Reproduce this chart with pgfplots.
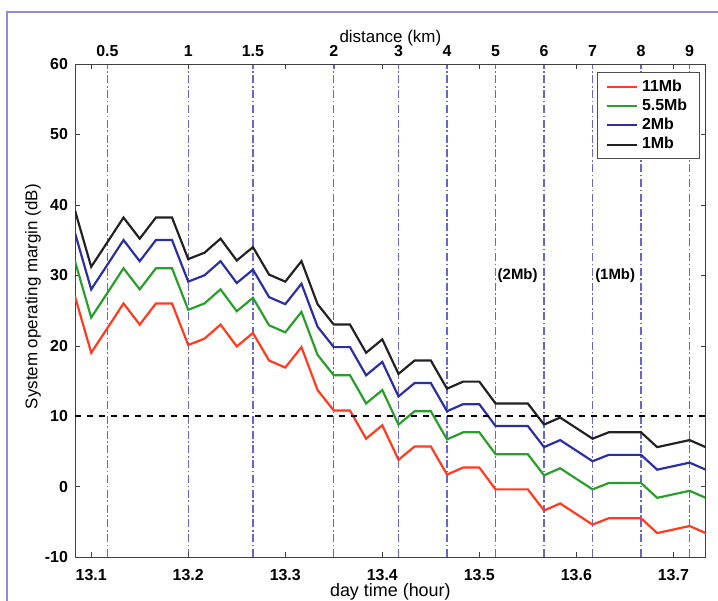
\documentclass[border=0pt]{standalone}
\usepackage{fontspec}
\setmainfont{Liberation Sans}
\usepackage{pgfplots}
\pgfplotsset{compat=1.18}
\usepackage{pgfplotstable}

\definecolor{c11}{HTML}{FF3A1E}
\definecolor{c55}{HTML}{2A9E2A}
\definecolor{c2}{HTML}{2B2FA0}
\definecolor{c1}{HTML}{222222}
\definecolor{gridc}{HTML}{6666CC}
\definecolor{framec}{HTML}{8C8CE0}

% time in hours, margin in dB for 11, 5.5, 2 and 1 Mb
\pgfplotstableread{
t       r11   r55   r2    r1
13.0833 27.0  32.0  36.0  39.2
13.1000 19.0  24.0  28.0  31.2
13.1167 22.5  27.5  31.5  34.7
13.1333 26.0  31.0  35.0  38.2
13.1500 23.0  28.0  32.0  35.2
13.1667 26.0  31.0  35.0  38.2
13.1833 26.0  31.0  35.0  38.2
13.2000 20.1  25.1  29.1  32.3
13.2167 21.0  26.0  30.0  33.2
13.2333 23.0  28.0  32.0  35.2
13.2500 19.9  24.9  28.9  32.1
13.2667 21.8  26.8  30.8  34.0
13.2833 17.9  22.9  26.9  30.1
13.3000 16.9  21.9  25.9  29.1
13.3167 19.8  24.8  28.8  32.0
13.3333 13.7  18.7  22.7  25.9
13.3500 10.8  15.8  19.8  23.0
13.3667 10.8  15.8  19.8  23.0
13.3833  6.8  11.8  15.8  19.0
13.4000  8.7  13.7  17.7  20.9
13.4167  3.8   8.8  12.8  16.0
13.4333  5.7  10.7  14.7  17.9
13.4500  5.7  10.7  14.7  17.9
13.4667  1.7   6.7  10.7  13.9
13.4833  2.7   7.7  11.7  14.9
13.5000  2.7   7.7  11.7  14.9
13.5167 -0.4   4.6   8.6  11.8
13.5333 -0.4   4.6   8.6  11.8
13.5500 -0.4   4.6   8.6  11.8
13.5667 -3.4   1.6   5.6   8.8
13.5833 -2.4   2.6   6.6   9.8
13.6000 -3.9   1.1   5.1   8.3
13.6167 -5.4  -0.4   3.6   6.8
13.6333 -4.5   0.5   4.5   7.7
13.6500 -4.5   0.5   4.5   7.7
13.6667 -4.5   0.5   4.5   7.7
13.6833 -6.6  -1.6   2.4   5.6
13.7000 -6.1  -1.1   2.9   6.1
13.7167 -5.6  -0.6   3.4   6.6
13.7333 -6.6  -1.6   2.4   5.6
}\margins

\pgfplotsset{
  common/.style={
    width=315.35bp, height=246.5bp, scale only axis,
    at={(0,0)}, anchor=south west,
    xmin=13.0833, xmax=13.7333, ymin=-10, ymax=60,
    /pgf/number format/assume math mode=true,
    tick label style={font=\bfseries\fontsize{8}{10}\selectfont},
    label style={font=\fontsize{8.5}{10}\selectfont},
    major tick length=2.5bp,
  },
}

\begin{document}
\begin{tikzpicture}
\useasboundingbox (-37.5bp,-22bp) rectangle (321.5bp,278.5bp);
\draw[framec, line width=0.8bp] (-34bp,-22bp) -- (-34bp,272.5bp) -- (321.5bp,272.5bp);

% distance axis on top, with its dash-dot lines
\begin{axis}[common,
  axis x line*=top, axis y line=none,
  xtick={13.1167,13.2,13.2667,13.35,13.4167,13.4667,13.5167,13.5667,13.6167,13.6667,13.7167},
  xticklabels={0.5,1,1.5,2,3,4,5,6,7,8,9},
  xmajorgrids,
  major grid style={gridc, line width=0.6pt, dash pattern=on 4bp off 1.3bp on 0.8bp off 1.3bp},
  xtick style={gridc},
  xlabel={distance (km)},
  xlabel style={yshift=-7bp},
]
\end{axis}

\begin{axis}[common,
  axis line style={black!75, line width=0.5pt},
  xtick={13.1,13.2,13.3,13.4,13.5,13.6,13.7},
  xticklabels={13.1,13.2,13.3,13.4,13.5,13.6,13.7},
  ytick={-10,0,10,20,30,40,50,60},
  yticklabels={-10,0,10,20,30,40,50,60},
  xticklabel style={yshift=-2.5bp},
  tick align=inside, tick style={black!75},
  xlabel={day time (hour)},
  ylabel={System operating margin (dB)},
  every axis x label/.style={at={(axis description cs:0.5,0)}, anchor=center, yshift=-17.5bp,
    font=\fontsize{9}{10}\selectfont},
  every axis y label/.style={at={(axis description cs:-0.0666,0.528)}, rotate=90, anchor=center,
    font=\fontsize{8.5}{10}\selectfont},
  legend style={at={(1,1)}, anchor=north east, xshift=-3bp, yshift=-4bp,
    draw=black!70, line width=0.5pt, inner xsep=4bp, inner ysep=1.5bp,
    font=\bfseries\fontsize{8}{9}\selectfont,
    row sep=-1.6bp},
  legend cell align=left,
  legend image code/.code={\draw[#1] (0bp,0bp) -- (15bp,0bp);},
]
\addplot[c11, line width=1.1pt] table[x=t, y=r11] {\margins};
\addlegendentry{11Mb}
\addplot[c55, line width=1.1pt] table[x=t, y=r55] {\margins};
\addlegendentry{5.5Mb}
\addplot[c2, line width=1.1pt] table[x=t, y=r2] {\margins};
\addlegendentry{2Mb}
\addplot[c1, line width=1.1pt] table[x=t, y=r1] {\margins};
\addlegendentry{1Mb}
\addplot[black, line width=0.9pt, dash pattern=on 3bp off 3bp, forget plot]
  coordinates {(13.0833,10) (13.7333,10)};
\node[font=\bfseries\fontsize{7.5}{9}\selectfont] at (axis cs:13.5395,30) {(2Mb)};
\node[font=\bfseries\fontsize{7.5}{9}\selectfont] at (axis cs:13.640,30) {(1Mb)};
\end{axis}
\end{tikzpicture}
\end{document}
